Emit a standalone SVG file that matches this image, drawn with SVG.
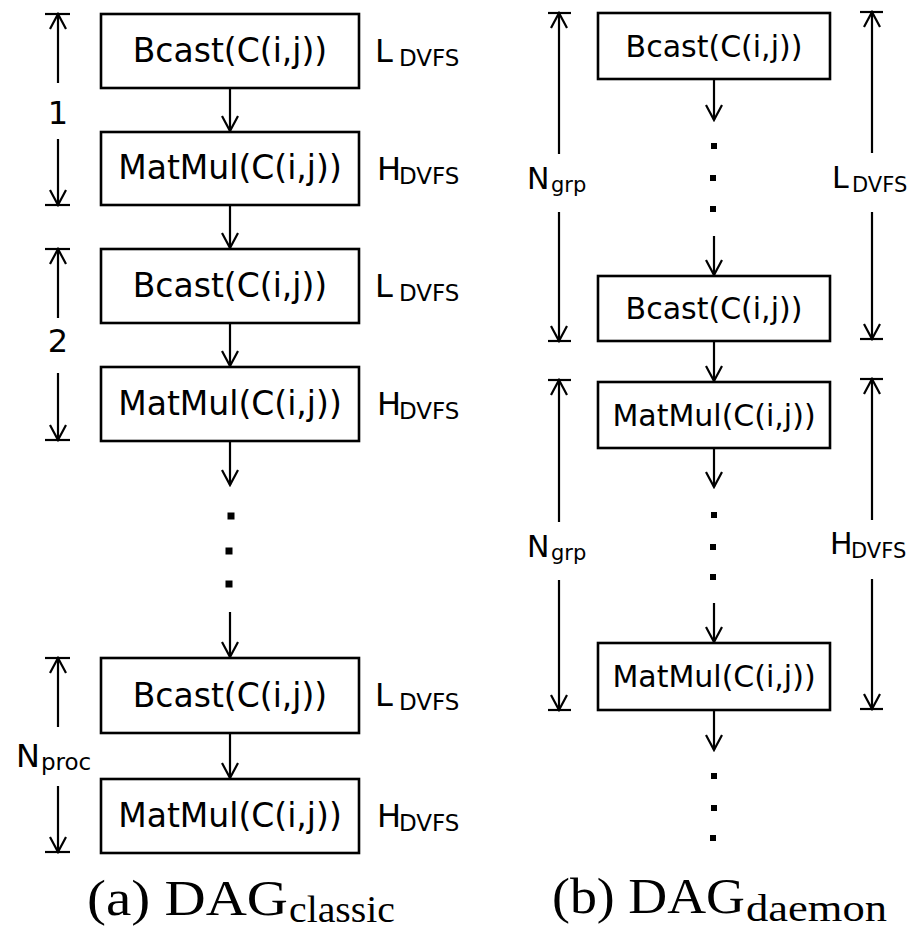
<svg xmlns="http://www.w3.org/2000/svg" width="909" height="930" viewBox="0 0 909 930">
  <style>
    .box { fill: #fff; stroke: #000; stroke-width: 2.6; }
    .t { font-family: "DejaVu Sans", "Liberation Sans", sans-serif; fill: #000; text-anchor: middle; }
    .tl { font-size: 33px; }
    .tr { font-size: 30px; }
    .lab { font-family: "DejaVu Sans", "Liberation Sans", sans-serif; fill: #000; }
    .ln { stroke: #000; stroke-width: 2.2; fill: none; }
    .cap { font-family: "Liberation Serif", "Times New Roman", serif; fill: #000; }
    .dot { fill: #000; }
  </style>
  <defs>
    <marker id="ah" viewBox="-18 -10 20 20" markerWidth="20" markerHeight="20" refX="0" refY="0" orient="auto" markerUnits="userSpaceOnUse">
      <path d="M-15,-8 L0,0 L-15,8" fill="none" stroke="#000" stroke-width="2.2"/>
    </marker>
  </defs>

  <!-- (a) classic DAG: nodes -->
  <g id="a-bcast-1"><rect class="box" x="101" y="14" width="258" height="74"/><text class="t tl" x="230" y="62">Bcast(C(i,j))</text></g>
  <g id="a-matmul-1"><rect class="box" x="101" y="132" width="258" height="73"/><text class="t tl" x="230" y="179">MatMul(C(i,j))</text></g>
  <g id="a-bcast-2"><rect class="box" x="101" y="249" width="258" height="74"/><text class="t tl" x="230" y="297">Bcast(C(i,j))</text></g>
  <g id="a-matmul-2"><rect class="box" x="101" y="367" width="258" height="74"/><text class="t tl" x="230" y="415">MatMul(C(i,j))</text></g>
  <g id="a-bcast-n"><rect class="box" x="101" y="658" width="258" height="75"/><text class="t tl" x="230" y="707">Bcast(C(i,j))</text></g>
  <g id="a-matmul-n"><rect class="box" x="101" y="779" width="258" height="74"/><text class="t tl" x="230" y="827">MatMul(C(i,j))</text></g>

  <!-- (b) daemon DAG: nodes -->
  <g id="b-bcast-1"><rect class="box" x="598" y="13" width="232" height="66"/><text class="t tr" x="714" y="57">Bcast(C(i,j))</text></g>
  <g id="b-bcast-n"><rect class="box" x="598" y="276" width="232" height="65"/><text class="t tr" x="714" y="319">Bcast(C(i,j))</text></g>
  <g id="b-matmul-1"><rect class="box" x="598" y="382" width="232" height="66"/><text class="t tr" x="714" y="426">MatMul(C(i,j))</text></g>
  <g id="b-matmul-n"><rect class="box" x="598" y="643" width="232" height="67"/><text class="t tr" x="714" y="687">MatMul(C(i,j))</text></g>

  <!-- connectors -->
  <g id="connectors" class="ln">
    <line x1="230" y1="88" x2="230" y2="131" marker-end="url(#ah)"/>
    <line x1="230" y1="205" x2="230" y2="248" marker-end="url(#ah)"/>
    <line x1="230" y1="323" x2="230" y2="366" marker-end="url(#ah)"/>
    <line x1="230" y1="441" x2="230" y2="485" marker-end="url(#ah)"/>
    <line x1="230" y1="612" x2="230" y2="657" marker-end="url(#ah)"/>
    <line x1="230" y1="733" x2="230" y2="778" marker-end="url(#ah)"/>

    <line x1="714" y1="79" x2="714" y2="120" marker-end="url(#ah)"/>
    <line x1="714" y1="236" x2="714" y2="275" marker-end="url(#ah)"/>
    <line x1="714" y1="341" x2="714" y2="381" marker-end="url(#ah)"/>
    <line x1="714" y1="448" x2="714" y2="487" marker-end="url(#ah)"/>
    <line x1="714" y1="603" x2="714" y2="642" marker-end="url(#ah)"/>
    <line x1="714" y1="710" x2="714" y2="750" marker-end="url(#ah)"/>
  </g>

  <!-- continuation dots -->
  <g id="ellipses">
    <rect class="dot" x="227.5" y="512.5" width="7" height="7"/>
    <rect class="dot" x="225.5" y="547.5" width="7" height="7"/>
    <rect class="dot" x="225.5" y="580.5" width="7" height="7"/>

    <rect class="dot" x="711" y="143" width="6" height="6"/>
    <rect class="dot" x="710" y="175" width="6" height="6"/>
    <rect class="dot" x="710" y="206" width="6" height="6"/>

    <rect class="dot" x="711" y="512" width="6" height="6"/>
    <rect class="dot" x="710" y="544" width="6" height="6"/>
    <rect class="dot" x="710" y="574" width="6" height="6"/>

    <rect class="dot" x="711" y="773" width="6" height="6"/>
    <rect class="dot" x="711" y="805" width="6" height="6"/>
    <rect class="dot" x="710" y="835" width="6" height="6"/>
  </g>

  <!-- span markers -->
  <g id="spans" class="ln">
    <!-- (a) step 1 -->
    <line x1="45" y1="14" x2="70" y2="14"/>
    <line x1="58" y1="83" x2="58" y2="14" marker-end="url(#ah)"/>
    <line x1="58" y1="139" x2="58" y2="205" marker-end="url(#ah)"/>
    <line x1="45" y1="205" x2="70" y2="205"/>
    <!-- (a) step 2 -->
    <line x1="45" y1="249" x2="70" y2="249"/>
    <line x1="58" y1="318" x2="58" y2="249" marker-end="url(#ah)"/>
    <line x1="58" y1="373" x2="58" y2="440" marker-end="url(#ah)"/>
    <line x1="45" y1="440" x2="70" y2="440"/>
    <!-- (a) step N -->
    <line x1="45" y1="658" x2="70" y2="658"/>
    <line x1="58" y1="727" x2="58" y2="658" marker-end="url(#ah)"/>
    <line x1="58" y1="786" x2="58" y2="852" marker-end="url(#ah)"/>
    <line x1="45" y1="852" x2="70" y2="852"/>

    <!-- (b) group of broadcasts -->
    <line x1="548" y1="13" x2="571" y2="13"/>
    <line x1="559" y1="154" x2="559" y2="13" marker-end="url(#ah)"/>
    <line x1="559" y1="212" x2="559" y2="341" marker-end="url(#ah)"/>
    <line x1="548" y1="341" x2="571" y2="341"/>
    <line x1="860" y1="12" x2="883" y2="12"/>
    <line x1="872" y1="153" x2="872" y2="12" marker-end="url(#ah)"/>
    <line x1="872" y1="212" x2="872" y2="339" marker-end="url(#ah)"/>
    <line x1="860" y1="339" x2="883" y2="339"/>
    <!-- (b) group of multiplications -->
    <line x1="548" y1="380" x2="571" y2="380"/>
    <line x1="559" y1="522" x2="559" y2="380" marker-end="url(#ah)"/>
    <line x1="559" y1="580" x2="559" y2="710" marker-end="url(#ah)"/>
    <line x1="548" y1="710" x2="571" y2="710"/>
    <line x1="860" y1="379" x2="883" y2="379"/>
    <line x1="872" y1="520" x2="872" y2="379" marker-end="url(#ah)"/>
    <line x1="872" y1="579" x2="872" y2="709" marker-end="url(#ah)"/>
    <line x1="860" y1="709" x2="883" y2="709"/>
  </g>

  <!-- span labels -->
  <g id="labels" class="lab">
    <text x="58" y="124" font-size="32" text-anchor="middle">1</text>
    <text x="58" y="352" font-size="32" text-anchor="middle">2</text>
    <text x="16" y="767" font-size="32">N<tspan x="41" dy="3" font-size="23">proc</tspan></text>

    <text x="375" y="62" font-size="32">L<tspan x="399" dy="4" font-size="23">DVFS</tspan></text>
    <text x="377" y="180" font-size="32">H<tspan x="399" dy="4" font-size="23">DVFS</tspan></text>
    <text x="375" y="297" font-size="32">L<tspan x="399" dy="4" font-size="23">DVFS</tspan></text>
    <text x="377" y="415" font-size="32">H<tspan x="399" dy="4" font-size="23">DVFS</tspan></text>
    <text x="375" y="706" font-size="32">L<tspan x="399" dy="4" font-size="23">DVFS</tspan></text>
    <text x="377" y="827" font-size="32">H<tspan x="399" dy="4" font-size="23">DVFS</tspan></text>

    <text x="527" y="189" font-size="30">N<tspan x="551" dy="3" font-size="21">grp</tspan></text>
    <text x="527" y="557" font-size="30">N<tspan x="551" dy="3" font-size="21">grp</tspan></text>
    <text x="832" y="188" font-size="30">L<tspan x="852" dy="4" font-size="21">DVFS</tspan></text>
    <text x="830" y="554" font-size="30">H<tspan x="851" dy="4" font-size="21">DVFS</tspan></text>
  </g>

  <!-- captions -->
  <g id="captions" class="cap">
    <text x="87" y="915" font-size="50" textLength="201" lengthAdjust="spacingAndGlyphs">(a) DAG</text>
    <text x="289" y="922" font-size="38" textLength="106" lengthAdjust="spacingAndGlyphs">classic</text>
    <text x="552" y="913" font-size="50" textLength="193" lengthAdjust="spacingAndGlyphs">(b) DAG</text>
    <text x="746" y="921" font-size="38" textLength="141" lengthAdjust="spacingAndGlyphs">daemon</text>
  </g>
</svg>
